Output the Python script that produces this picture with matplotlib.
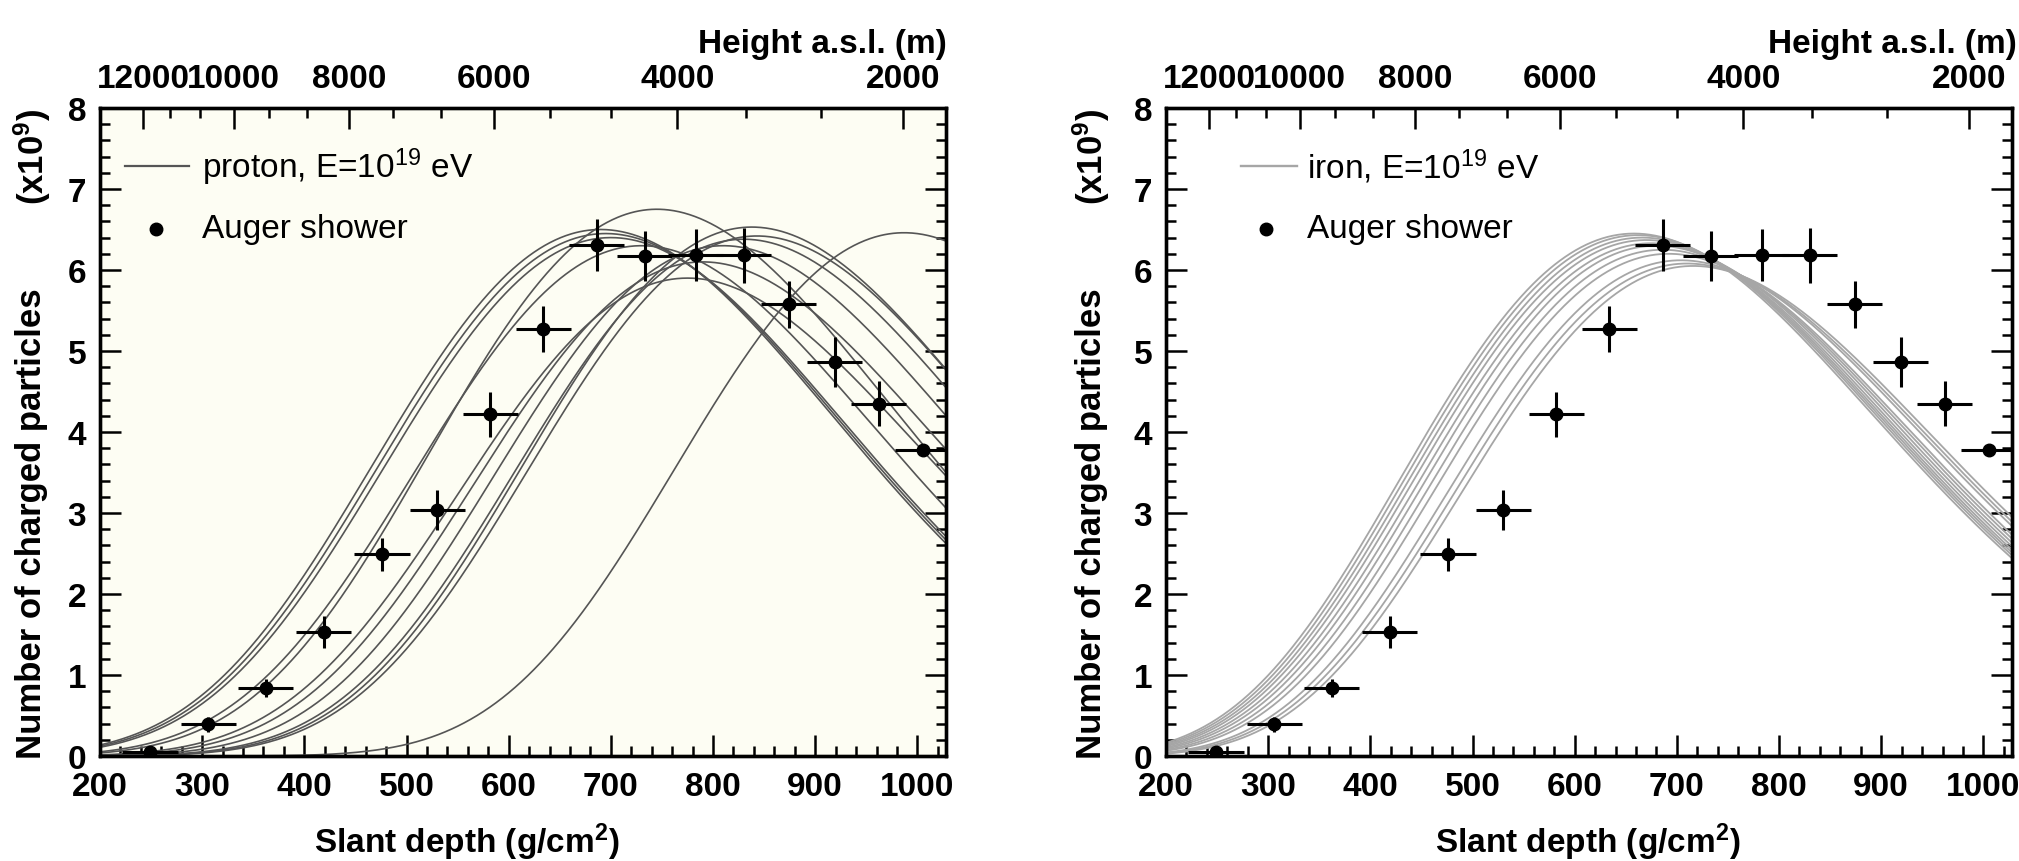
import numpy as np
import matplotlib
matplotlib.use("Agg")
import matplotlib.pyplot as plt
from matplotlib.ticker import MultipleLocator, FixedLocator, NullFormatter

plt.rcParams['font.family'] = ['Liberation Sans', 'DejaVu Sans']
plt.rcParams['mathtext.default'] = 'regular'

# ---------------- data ----------------
depth = [249, 306, 362, 419, 476, 530, 582, 634, 686, 733, 783, 830, 874, 919, 962, 1005]
n_charged = [0.05, 0.39, 0.84, 1.53, 2.49, 3.04, 4.22, 5.27, 6.31, 6.17, 6.19, 6.18, 5.58, 4.86, 4.35, 3.78]
depth_err = [27] * 16
n_err = [0.03, 0.09, 0.11, 0.20, 0.20, 0.25, 0.28, 0.28, 0.32, 0.31, 0.32, 0.34, 0.29, 0.31, 0.28, 0.05]

# simulated shower profiles: depth of maximum and size at maximum (x10^9)
proton_xmax = [690, 695, 700, 730, 745, 775, 790, 810, 830, 838, 843, 987]
proton_nmax = [6.50, 6.45, 6.40, 6.30, 6.75, 5.90, 6.10, 6.30, 6.38, 6.53, 6.42, 6.46]
proton_width = 225.0
proton_asym = 0.25

iron_xmax = [658, 662, 666, 670, 675, 680, 686, 692, 704, 710, 716]
iron_nmax = [6.45, 6.43, 6.40, 6.37, 6.33, 6.30, 6.25, 6.20, 6.12, 6.08, 6.05]
iron_width = 230.0
iron_asym = 0.32

# upper axis: height above sea level and the matching slant depth
height_ticks = [12000, 10000, 8000, 6000, 4000, 2000]
height_depth = [242, 331, 444, 586, 765, 986]

XLIM = (200, 1028)
YLIM = (0, 8)

W, H = 2019, 862


def profile(x, xmax, nmax, L, R):
    """Gaisser-Hillas shower profile in the (L, R) form."""
    t = 1.0 + R * (x - xmax) / L
    t = np.clip(t, 1e-9, None)
    return nmax * t ** (1.0 / R ** 2) * np.exp(-(x - xmax) / (R * L))


def rect(x0, x1, y0, y1):
    return [x0 / W, 1 - y1 / H, (x1 - x0) / W, (y1 - y0) / H]


def fx(px):
    return px / W


def fy(py):
    return 1 - py / H


fig = plt.figure(figsize=(W / 100, H / 100), dpi=100)
fig.patch.set_facecolor('white')

TICK_FS = 24
LABEL_FS = 24


def make_panel(ax, xmaxs, nmaxs, L, R, color, lw, bg, leg_label,
               leg_line, leg_text_x, leg_marker_x):
    ax.set_facecolor(bg)
    xs = np.linspace(XLIM[0], XLIM[1], 800)
    for xm, nm in zip(xmaxs, nmaxs):
        ax.plot(xs, profile(xs, xm, nm, L, R), color=color, lw=lw, zorder=2)
    ax.errorbar(depth, n_charged, xerr=depth_err, yerr=n_err, fmt='o',
                color='black', ms=9, elinewidth=2.2, capsize=0, zorder=4)
    ax.set_xlim(*XLIM)
    ax.set_ylim(*YLIM)
    ax.xaxis.set_major_locator(MultipleLocator(100))
    ax.xaxis.set_minor_locator(MultipleLocator(20))
    ax.yaxis.set_major_locator(MultipleLocator(1))
    ax.yaxis.set_minor_locator(MultipleLocator(0.2))
    ax.tick_params(which='both', direction='in', left=True, right=True,
                   bottom=True, top=False, width=1.8, colors='black')
    ax.tick_params(which='major', length=15, labelsize=TICK_FS)
    ax.tick_params(axis='x', which='major', pad=11)
    ax.tick_params(axis='y', which='major', pad=10)
    ax.tick_params(which='minor', length=7.5)
    for lab in ax.get_xticklabels() + ax.get_yticklabels():
        lab.set_fontweight('bold')
    for sp in ax.spines.values():
        sp.set_linewidth(2.4)

    # upper height axis
    tw = ax.twiny()
    tw.set_xlim(*XLIM)
    tw.xaxis.set_major_locator(FixedLocator(height_depth))
    tw.set_xticklabels([str(h) for h in height_ticks], fontweight='bold',
                       fontsize=TICK_FS)
    hmin = []
    for i in range(len(height_ticks) - 1):
        h0, h1 = height_ticks[i], height_ticks[i + 1]
        for k in (1, 2):
            hmin.append(h0 + (h1 - h0) * k / 3.0)
    ld = np.interp(-np.array(hmin), -np.array(height_ticks), np.log(height_depth))
    tw.xaxis.set_minor_locator(FixedLocator(np.exp(ld)))
    tw.xaxis.set_minor_formatter(NullFormatter())
    tw.tick_params(axis='x', which='both', direction='in', top=True,
                   bottom=False, labeltop=True, labelbottom=False,
                   width=1.8)
    tw.tick_params(axis='x', which='major', length=15, pad=10)
    tw.tick_params(axis='x', which='minor', length=7.5)
    for sp in tw.spines.values():
        sp.set_linewidth(2.4)

    # legend (drawn by hand, ROOT style)
    tr = ax.transAxes
    ax.plot(leg_line, [0.9105, 0.9105], color=color, lw=lw + 0.4,
            transform=tr, clip_on=False, zorder=5)
    ax.text(leg_text_x, 0.9105, leg_label, transform=tr, fontsize=24,
            fontweight='normal', va='center', ha='left', zorder=5)
    ax.plot([leg_marker_x], [0.8133], 'o', color='black', ms=9,
            transform=tr, clip_on=False, zorder=5)
    ax.text(leg_text_x, 0.8133, 'Auger shower', transform=tr, fontsize=24,
            fontweight='normal', va='center', ha='left', zorder=5)
    return tw


ax_l = fig.add_axes(rect(100, 946, 109, 757))
ax_r = fig.add_axes(rect(1166, 2012, 109, 757))

make_panel(ax_l, proton_xmax, proton_nmax, proton_width, proton_asym,
           '#555555', 1.2, '#fdfdf3', 'proton, E=10$^{19}$ eV',
           [0.0296, 0.105], 0.1205, 0.0662)
make_panel(ax_r, iron_xmax, iron_nmax, iron_width, iron_asym,
           '#a6a6a6', 1.3, 'white', 'iron, E=10$^{19}$ eV',
           [0.0892, 0.1548], 0.1667, 0.1186)

# axis titles
for ylab_x in (32, 1091):
    fig.text(fx(ylab_x), fy(759), 'Number of charged particles', rotation=90,
             ha='center', va='bottom', fontsize=25, fontweight='bold')
    fig.text(fx(ylab_x), fy(109), '(x10$^{9}$)', rotation=90,
             ha='center', va='top', fontsize=25, fontweight='bold')

for xlab_x in (467, 1588):
    fig.text(fx(xlab_x), fy(842), 'Slant depth (g/cm$^{2}$)', ha='center',
             va='center', fontsize=LABEL_FS, fontweight='bold')

for right_px in (947, 2017):
    fig.text(fx(right_px), fy(44), 'Height a.s.l. (m)', ha='right',
             va='center', fontsize=LABEL_FS, fontweight='bold')

fig.savefig('out.png', dpi=100)
